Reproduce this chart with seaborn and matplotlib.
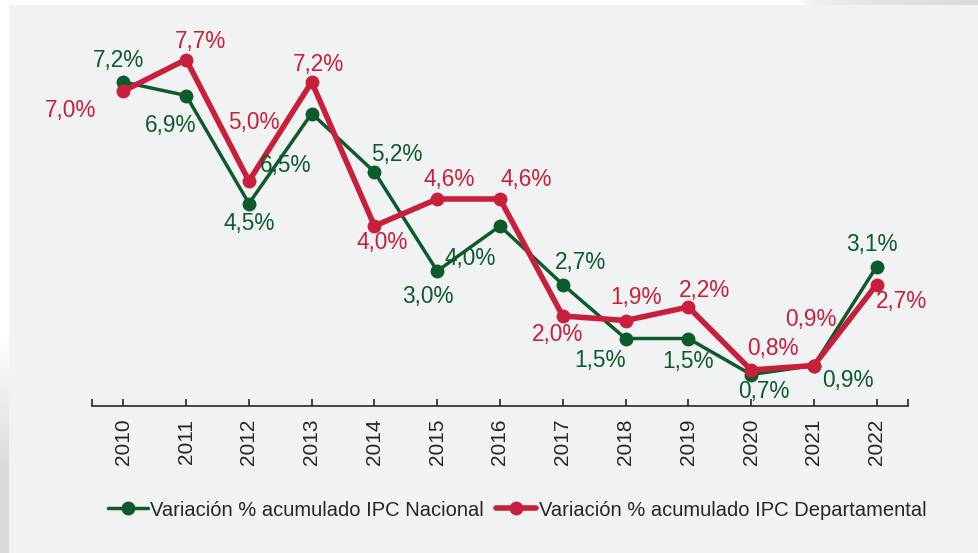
import matplotlib
matplotlib.use("Agg")
import matplotlib.pyplot as plt
import seaborn as sns
import pandas as pd
import numpy as np
from matplotlib.colors import LinearSegmentedColormap

years = [2010, 2011, 2012, 2013, 2014, 2015, 2016, 2017, 2018, 2019, 2020, 2021, 2022]
ipc_nacional = [7.2, 6.9, 4.5, 6.5, 5.2, 3.0, 4.0, 2.7, 1.5, 1.5, 0.7, 0.9, 3.1]
ipc_departamental = [7.0, 7.7, 5.0, 7.2, 4.0, 4.6, 4.6, 2.0, 1.9, 2.2, 0.8, 0.9, 2.7]
series_names = ["Variación % acumulado IPC Nacional",
                "Variación % acumulado IPC Departamental"]

GREEN = "#0d5a2b"
RED = "#c8203a"
BG = "#f1f2f4"

# label offsets in pixels (dx, dy) relative to each point
off_nac = [(-5, 21), (-16, -30), (0, -20), (-26, -52), (22, 17), (-9, -26), (-30, -32),
           (18, 22), (-26, -22), (0, -23), (13, -17), (34, -15), (-5, 22)]
off_dep = [(-53, -20), (14, 18), (5, 58), (7, 18), (8, -17), (12, 20), (26, 20),
           (-5, -19), (10, 23), (16, 16), (22, 21), (-3, 46), (25, -17)]

sns.set_theme(style="white")
plt.rcParams["font.family"] = ["Liberation Sans", "DejaVu Sans"]

W, H = 979, 553
fig = plt.figure(figsize=(W / 100, H / 100), dpi=100, facecolor="white")

# panel background
fig.patches.append(plt.Rectangle((9 / W, 0), 1 - 9 / W, 1 - 5 / H, transform=fig.transFigure,
                                 facecolor=BG, edgecolor="none", zorder=-5))

# soft shading on the left edge and on the top-right edge
shade = LinearSegmentedColormap.from_list("shade", ["#ffffff", "#d9dadd"])
left = fig.add_axes([0, 0, 9 / W, 260 / H], zorder=-1)
left.imshow(np.clip(np.linspace(-0.3, 1.6, 80), 0, 1)[:, None], aspect="auto",
            cmap=shade, vmin=0, vmax=1)
left.axis("off")
top = fig.add_axes([800 / W, 1 - 5 / H, 179 / W, 5 / H], zorder=-1)
top.imshow(np.linspace(0, 1, 100)[None, :] ** 0.4, aspect="auto", cmap=shade, vmin=0, vmax=1)
top.axis("off")

y0, ppu = 406, 45.0
ytop = 8.5
ax = fig.add_axes([92 / W, (H - y0) / H, (908 - 92) / W, ytop * ppu / H], zorder=1)
ax.set_facecolor(BG)

df = pd.DataFrame({
    "year": years * 2,
    "value": ipc_nacional + ipc_departamental,
    "serie": [series_names[0]] * len(years) + [series_names[1]] * len(years),
})

sns.lineplot(data=df[df.serie == series_names[0]], x="year", y="value", ax=ax,
             color=GREEN, linewidth=2.5, marker="o", markersize=10,
             markeredgewidth=0, label=series_names[0], zorder=3)
sns.lineplot(data=df[df.serie == series_names[1]], x="year", y="value", ax=ax,
             color=RED, linewidth=4.0, marker="o", markersize=10,
             markeredgewidth=0, label=series_names[1], zorder=4)

def fmt(v):
    return f"{v:.1f}".replace(".", ",") + "%"

for x, v, (dx, dy) in zip(years, ipc_nacional, off_nac):
    ax.annotate(fmt(v), (x, v), xytext=(dx, dy), textcoords="offset pixels",
                ha="center", va="center", color=GREEN, fontsize=16.3, zorder=5)
for x, v, (dx, dy) in zip(years, ipc_departamental, off_dep):
    ax.annotate(fmt(v), (x, v), xytext=(dx, dy), textcoords="offset pixels",
                ha="center", va="center", color=RED, fontsize=16.3, zorder=5)

ax.set_xlim(2009.5, 2022.5)
ax.set_ylim(0, ytop)
ax.set_xticks(years)
ax.set_xticks([2009.5, 2022.5], minor=True)
ax.set_xticklabels([str(y) for y in years], rotation=90, fontsize=15, color="#262626")
ax.set_yticks([])
ax.set_xlabel("")
ax.set_ylabel("")
for s in ["top", "right", "left"]:
    ax.spines[s].set_visible(False)
ax.spines["bottom"].set_color("#262626")
ax.spines["bottom"].set_linewidth(1.2)
ax.tick_params(axis="x", which="both", direction="in", length=5, width=1.2,
               color="#262626", bottom=True, pad=9)

leg = ax.legend(loc="center", bbox_to_anchor=((517 - 92) / 816, (y0 - 510) / (ytop * ppu)),
                ncol=2, frameon=False, fontsize=14.5, handlelength=2.0,
                handletextpad=0.12, columnspacing=0.6, labelcolor="#262626")

fig.savefig("out.png", dpi=100, facecolor="white")
